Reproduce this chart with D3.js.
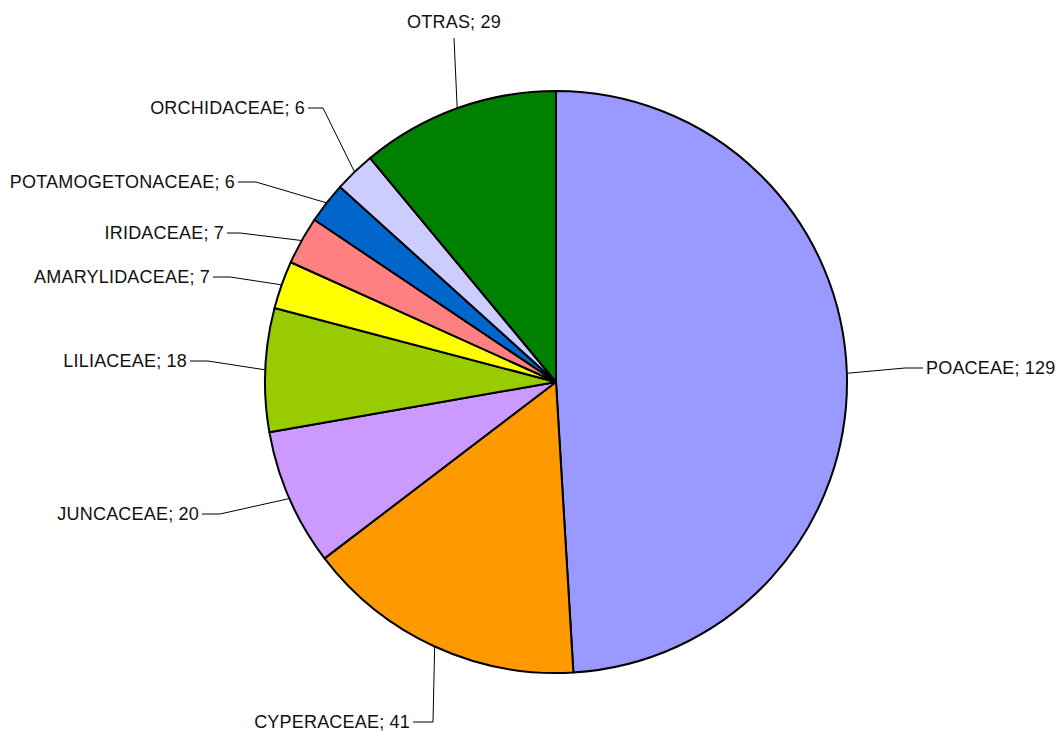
<!DOCTYPE html>
<html>
<head>
<meta charset="utf-8">
<script src="https://cdn.jsdelivr.net/npm/d3@7"></script>
<style>
  html, body { margin: 0; padding: 0; background: #fff; }
  svg { display: block; }
  text { font-family: "Liberation Sans", Arial, sans-serif; font-size: 18px; fill: #111; }
</style>
</head>
<body>
<svg id="chart" width="1059" height="731"></svg>
<script>
// Plant families and number of species
const families = ["POACEAE", "CYPERACEAE", "JUNCACEAE", "LILIACEAE", "AMARYLIDACEAE",
                  "IRIDACEAE", "POTAMOGETONACEAE", "ORCHIDACEAE", "OTRAS"];
const counts = [129, 41, 20, 18, 7, 7, 6, 6, 29];
const sliceColors = ["#9999FF", "#FF9900", "#CC99FF", "#99CC00", "#FFFF00",
                     "#FF8080", "#0066CC", "#CCCCFF", "#008000"];

// Label placement: elbow of each leader line relative to the pie centre,
// which side the label sits on, and the horizontal run of the leader.
const labelElbows = [
  [349, -14, "right", 18],
  [-123, 340, "left", 20],
  [-336, 132, "left", 18],
  [-348, -21, "left", 18],
  [-326, -105, "left", 17],
  [-316, -149, "left", 13],
  [-300, -200, "left", 18],
  [-233, -274, "left", 15],
  [-102, -344, "top", 0]
];

const svg = d3.select("#chart");
const cx = 556, cy = 382, radius = 291;
const g = svg.append("g").attr("transform", `translate(${cx},${cy})`);

const pie = d3.pie().sort(null).value(d => d.value).startAngle(0).endAngle(2 * Math.PI);
const data = families.map((f, i) => ({ name: f, value: counts[i], color: sliceColors[i], elbow: labelElbows[i] }));
const arcs = pie(data);
const arc = d3.arc().innerRadius(0).outerRadius(radius);

g.selectAll("path.slice")
  .data(arcs)
  .join("path")
  .attr("class", "slice")
  .attr("d", arc)
  .attr("fill", d => d.data.color)
  .attr("stroke", "#000")
  .attr("stroke-width", 2)
  .attr("stroke-linejoin", "round");

// Leader lines and labels
arcs.forEach(d => {
  const mid = (d.startAngle + d.endAngle) / 2;
  const sx = radius * Math.sin(mid), sy = -radius * Math.cos(mid);
  const [ex, ey, side, run] = d.data.elbow;
  const label = `${d.data.name}; ${d.data.value}`;
  let pts, tx, ty, anchor;
  if (side === "left") {
    pts = [[sx, sy], [ex, ey], [ex - run, ey]];
    tx = ex - run - 3; ty = ey + 6; anchor = "end";
  } else if (side === "right") {
    pts = [[sx, sy], [ex, ey], [ex + run, ey]];
    tx = ex + run + 3; ty = ey + 6; anchor = "start";
  } else {
    pts = [[sx, sy], [ex, ey]];
    tx = ex; ty = ey - 10; anchor = "middle";
  }
  g.append("path")
    .attr("d", d3.line()(pts))
    .attr("fill", "none")
    .attr("stroke", "#000")
    .attr("stroke-width", 1);
  g.append("text")
    .attr("x", tx)
    .attr("y", ty)
    .attr("text-anchor", anchor)
    .attr("letter-spacing", 0.2)
    .text(label);
});
</script>
</body>
</html>
